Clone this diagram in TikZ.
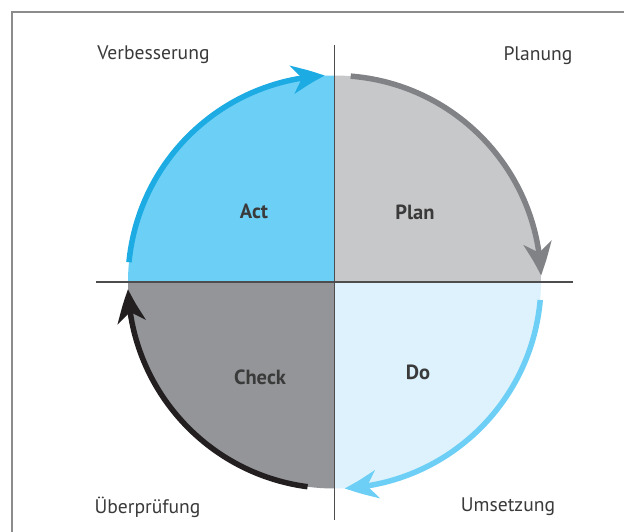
\documentclass[tikz,border=0pt]{standalone}
\usepackage{fontspec}
\setmainfont{PT Sans}
\usetikzlibrary{arrows.meta,bending}
\definecolor{actfill}{HTML}{6CCFF6}
\definecolor{planfill}{HTML}{C7C8CA}
\definecolor{checkfill}{HTML}{939598}
\definecolor{dofill}{HTML}{DDF2FC}
\definecolor{actarrow}{HTML}{1CABE2}
\definecolor{planarrow}{HTML}{808285}
\definecolor{doarrow}{HTML}{6DCFF6}
\definecolor{checkarrow}{HTML}{231F20}
\definecolor{txt}{HTML}{3A3A3A}
\definecolor{frame}{HTML}{8C8C8C}
\definecolor{axis}{HTML}{4D4D4D}
\begin{document}
\begin{tikzpicture}[x=1pt,y=1pt,
  outer/.style={font=\fontsize{19.6}{22}\selectfont,text=txt,inner sep=0pt},
  inner/.style={font=\bfseries\fontsize{20.5}{23}\selectfont,text=txt,inner sep=0pt},
  cyclearrow/.style={line width=5.5pt,-{Stealth[length=33pt,width=28pt,inset=10pt,bend]}}]
\useasboundingbox (0,0) rectangle (624,531);
\fill[white] (0,0) rectangle (624,531);
\draw[frame,line width=1.4pt] (12,-10) -- (12,519) -- (640,519);
\coordinate (c) at (334.5,249);
\def\R{206.5}
% quadrants
\fill[actfill] (c) -- ++(90:\R) arc[start angle=90,end angle=180,radius=\R] -- cycle;
\fill[planfill] (c) -- ++(0:\R) arc[start angle=0,end angle=90,radius=\R] -- cycle;
\fill[dofill] (c) -- ++(-90:\R) arc[start angle=-90,end angle=0,radius=\R] -- cycle;
\fill[checkfill] (c) -- ++(180:\R) arc[start angle=180,end angle=270,radius=\R] -- cycle;
% axes
\coordinate (vt) at (334.5,486);
\coordinate (vb) at (334.5,11);
\coordinate (hl) at (96,249);
\coordinate (hr) at (573,249);
\draw[axis,line width=1.5pt] (vt) -- (vb);
\draw[axis,line width=1.5pt] (hl) -- (hr);
% arrows
\draw[cyclearrow,actarrow] (c) ++(174.5:\R) arc[start angle=174.5,end angle=92.7,radius=\R];
\draw[cyclearrow,planarrow] (c) ++(85.5:\R) arc[start angle=85.5,end angle=1.8,radius=\R];
\draw[cyclearrow,doarrow] (c) ++(-5:\R) arc[start angle=-5,end angle=-87.2,radius=\R];
\draw[cyclearrow,checkarrow] (c) ++(-97.5:\R) arc[start angle=-97.5,end angle=-178,radius=\R];
% labels
\node[inner] (act) at (254,320) {Act};
\node[inner] (plan) at (415,319) {Plan};
\node[inner] (check) at (260,154) {Check};
\node[inner] (do) at (418,159) {Do};
\node[outer] (verb) at (153.5,476) {Verbesserung};
\node[outer] (planung) at (538,475) {Planung};
\node[outer] (ueber) at (147.5,24) {Überprüfung};
\node[outer] (umsetz) at (508,24) {Umsetzung};
\end{tikzpicture}
\end{document}
